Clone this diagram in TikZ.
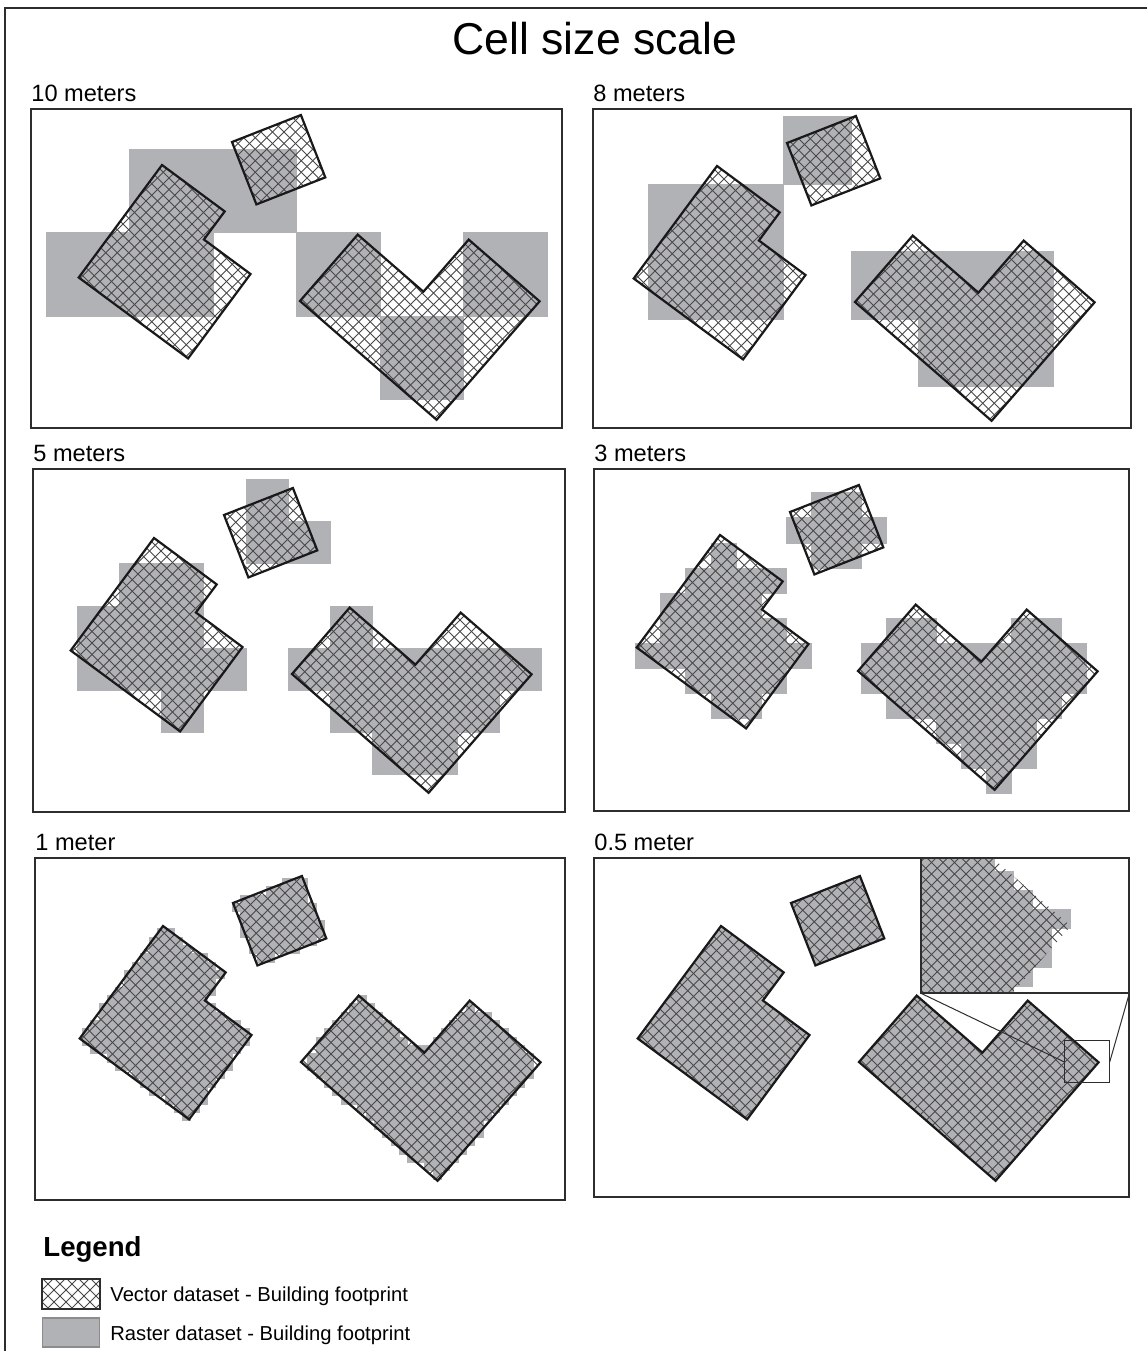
\documentclass[tikz,border=0pt]{standalone}
\usepackage{fontspec}
\setmainfont{Liberation Sans}
\usetikzlibrary{fit}
\definecolor{rastergray}{RGB}{177,178,182}
\definecolor{hatchgray}{RGB}{72,72,72}
\definecolor{framegray}{RGB}{45,45,45}
\tikzset{
    mapframe/.style={draw=framegray, line width=1pt},
    raster/.style={fill=rastergray, draw=rastergray, line width=0.3pt},
    hatchline/.style={draw=hatchgray, line width=0.45pt},
    outline/.style={draw=black!90, line width=1.1pt, line join=miter},
    panellabel/.style={anchor=base west, inner sep=0pt, font=\fontsize{11.8}{14}\selectfont},
    legendtext/.style={anchor=base west, inner sep=0pt, font=\fontsize{10.1}{12}\selectfont},
    swatch/.style={minimum width=28.5pt, minimum height=14.5pt, inner sep=0pt}
}

% building footprints (map units = px of the 10 m panel)
\newcommand\footL{(131,56) -- (193.7,102.4) -- (172.9,130.5) -- (219.5,165) -- (157.1,249.4) -- (47.7,168.5) -- cycle}
\newcommand\footS{(201,33) -- (269.9,6) -- (294.3,68.4) -- (225.4,95.4) -- cycle}
\newcommand\footV{(269,192) -- (326.7,125.6) -- (392.4,182.7) -- (437.7,130.6) -- (508.6,192.3) -- (405.6,310.8) -- cycle}
\newcommand\footprints{\footL \footS \footV}

% origin/angle/arm sizes/bounding box of each footprint
\newcommand\buildings{131/56/36.5/78/136/35/140/47/220/56/250,
    201/33/-21.4/74/74/0/67/201/295/6/96,
    269/192/-49/88/157/87/181/269/509/125/311}
\newcommand\insetbuilding{269/192/-49/88/157/87/181/470/525/172/212}

% cell size, grid origin x, grid origin y, footprints
\newcommand\rastercells[4]{%
    \foreach \bx/\by/\ang/\ra/\rb/\rc/\rd/\xmin/\xmax/\ymin/\ymax in #4 {
        \pgfmathtruncatemacro\ia{floor((\xmin-(#2))/(#1))}
        \pgfmathtruncatemacro\ib{floor((\xmax-(#2))/(#1))}
        \pgfmathtruncatemacro\ja{floor((\ymin-(#3))/(#1))}
        \pgfmathtruncatemacro\jb{floor((\ymax-(#3))/(#1))}
        \pgfmathsetmacro\ca{cos(\ang)}
        \pgfmathsetmacro\sa{sin(\ang)}
        \foreach \i in {\ia,...,\ib} {
            \foreach \j in {\ja,...,\jb} {
                \pgfmathsetmacro\px{(#2)+(\i+0.5)*(#1)-\bx}
                \pgfmathsetmacro\py{(#3)+(\j+0.5)*(#1)-\by}
                \pgfmathsetmacro\cs{(\px)*(\ca)+(\py)*(\sa)}
                \pgfmathsetmacro\ct{(\py)*(\ca)-(\px)*(\sa)}
                \pgfmathtruncatemacro\hit{(\cs>0)*(\ct>0)*(\ct<\rd)*(((\cs<\ra)+(\cs<\rb)*(\ct>\rc))>0)}
                \ifnum\hit>0
                    \fill[raster] ({(#2)+\i*(#1)},{(#3)+\j*(#1)}) rectangle ++(#1,#1);
                \fi
            }
        }
    }%
}

\begin{document}
\begin{tikzpicture}[x=0.5pt, y=-0.5pt]
    \useasboundingbox (0,0) rectangle (1147,1351);
    \fill[white] (0,0) rectangle (1147,1351);
    \draw[framegray, line width=1pt] (5,8) rectangle (1160,1365);

    % Title
    \node (title) [font=\fontsize{22.3}{26}\selectfont, anchor=base] at (595,54) {Cell size scale};

    % Panels: label / frame / map offset / cell size / grid origin
    \foreach \lab/\xa/\ya/\xb/\yb/\ox/\oy/\cell/\gx/\gy [count=\n] in {
        10 meters/31/109/562/428/31/109/83.5/15/40,
        8 meters/593/109/1131/428/586/110/67.5/-5/6.5,
        5 meters/33/469/565/812/23/482/42.2/11.8/-2.7,
        3 meters/594/469/1129/811/589/479/25.05/21.6/13.7,
        1 meter/35/858/565/1200/32/870/8.35/0/0,
        0.5 meter/594/858/1129/1197/590/870/0/0/0} {
        \begin{scope}
            \clip (\xa,\ya) rectangle (\xb,\yb);
            \begin{scope}[shift={(\ox,\oy)}]
                \ifdim\cell pt>0pt
                    \rastercells{\cell}{\gx}{\gy}{\buildings}
                \else
                    \fill[raster] \footprints;
                \fi
                \begin{scope}
                    \clip \footprints;
                    \foreach \k in {-24,...,45} \draw[hatchline] ({\k*11.5-20},-20) -- ({\k*11.5+400},400);
                    \foreach \k in {4,...,72} \draw[hatchline] ({\k*11.5+20},-20) -- ({\k*11.5-400},400);
                \end{scope}
                \draw[outline] \footprints;
            \end{scope}
        \end{scope}
        \draw[mapframe] (\xa,\ya) rectangle (\xb,\yb);
        \node (label\n) [panellabel] at (\xa,\ya-8) {\lab};
    }

    % Zoom inset of the 0.5 meter raster
    \node (inset) [fit={(921,858) (1129,992.7)}, inner sep=0pt] {};
    \fill[white] (inset.north west) rectangle (inset.south east);
    \begin{scope}
        \clip (inset.north west) rectangle (inset.south east);
        \begin{scope}[shift={(1070.7,926)}, scale=4.6, shift={(-508.6,-192.3)}]
            \rastercells{4.175}{508.6}{188.7}{\insetbuilding}
        \end{scope}
        \clip[shift={(1070.7,926)}, scale=4.6, shift={(-508.6,-192.3)}] \footV;
        \foreach \k in {-8,...,25} \draw[hatchline] ({\k*11.5+850},850) -- ({\k*11.5+1000},1000);
        \foreach \k in {153,...,186} \draw[hatchline] ({\k*11.5-850},850) -- ({\k*11.5-1000},1000);
    \end{scope}
    \draw[mapframe] (inset.north west) rectangle (inset.south east);
    \node (zoomsrc) [fit={(1064.3,1040.7) (1109.3,1082.7)}, inner sep=0pt, draw=framegray, line width=0.5pt] {};
    \draw[framegray, line width=0.5pt] (inset.south west) -- (zoomsrc.west);
    \draw[framegray, line width=0.5pt] (inset.south east) -- (zoomsrc.east);

    % Legend
    \node (legend) [anchor=base west, inner sep=0pt, font=\bfseries\fontsize{13.8}{16}\selectfont] at (43,1256) {Legend};
    \node (vecswatch) [swatch] at (70.8,1293.8) {};
    \begin{scope}
        \clip (vecswatch.south west) rectangle (vecswatch.north east);
        \foreach \k in {-107,...,-97} \draw[hatchline] ({\k*12+1270},1270) -- ({\k*12+1320},1320);
        \foreach \k in {109,...,118} \draw[hatchline] ({\k*12-1270},1270) -- ({\k*12-1320},1320);
    \end{scope}
    \draw[mapframe] (vecswatch.south west) rectangle (vecswatch.north east);
    \node (rasswatch) [swatch, fill=rastergray, draw=black!45, line width=0.8pt] at (70.8,1332.2) {};
    \node (vectext) [legendtext] at (110,1301.7) {Vector dataset - Building footprint};
    \node (rastext) [legendtext] at (110,1340.7) {Raster dataset - Building footprint};

\end{tikzpicture}
\end{document}
